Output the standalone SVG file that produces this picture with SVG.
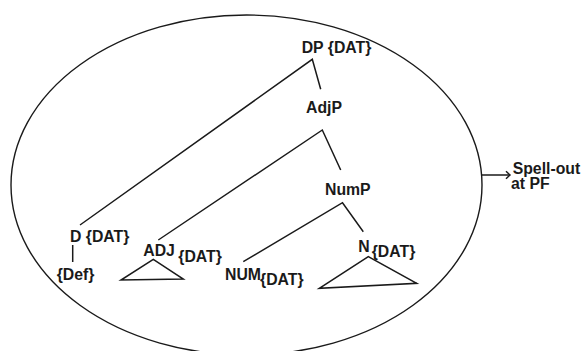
<svg xmlns="http://www.w3.org/2000/svg" width="582" height="351" viewBox="0 0 582 351">
<style>
.t{font-family:"Liberation Sans",Arial,Helvetica,sans-serif;font-weight:bold;font-size:15.8px;fill:#1a1a1a}
.ln{fill:none;stroke:#1a1a1a;stroke-width:1.5;stroke-linejoin:miter;stroke-linecap:butt}
.el{fill:none;stroke:#1a1a1a;stroke-width:1.4}
</style>
<rect width="582" height="351" fill="#ffffff"/>
<g id="phase">
<ellipse class="el" cx="246.5" cy="185" rx="235.5" ry="170"/>
</g>
<g id="connectors">
<polyline class="ln" points="80,225 312.3,59.3 320.7,89.3"/>
<polyline class="ln" points="158.3,240 322.3,130 340.7,170"/>
<polyline class="ln" points="243.3,261.7 342.5,202.7 363.3,231.7"/>
<line class="ln" x1="72.7" y1="245" x2="72.7" y2="262"/>
<line class="ln" x1="481.7" y1="175" x2="510" y2="175"/>
<polyline class="ln" points="506,171.3 510,175 506,178.7"/>
</g>
<g id="DP"><text class="t" x="301.7" y="52.7">DP {DAT}</text></g>
<g id="AdjP"><text class="t" x="306" y="113.3">AdjP</text></g>
<g id="NumP"><text class="t" x="325" y="195">NumP</text></g>
<g id="D"><text class="t" x="70" y="241.7">D {DAT}</text></g>
<g id="Def"><text class="t" x="56.7" y="280">{Def}</text></g>
<g id="ADJ">
<text class="t" x="143.3" y="256">ADJ</text>
<text class="t" x="178.3" y="261.7">{DAT}</text>
<polygon class="ln" points="153.3,259.3 121,280 183.3,279"/>
</g>
<g id="NUM">
<text class="t" x="225" y="280">NUM</text>
<text class="t" x="260" y="285">{DAT}</text>
</g>
<g id="N">
<text class="t" x="358.3" y="251.7">N</text>
<text class="t" x="371.7" y="256.7">{DAT}</text>
<polygon class="ln" points="368.3,256.7 319.3,288.3 416.7,283.3"/>
</g>
<g id="spellout">
<text class="t" x="512.7" y="173.8">Spell-out</text>
<text class="t" x="511" y="189.3">at PF</text>
</g>
</svg>
